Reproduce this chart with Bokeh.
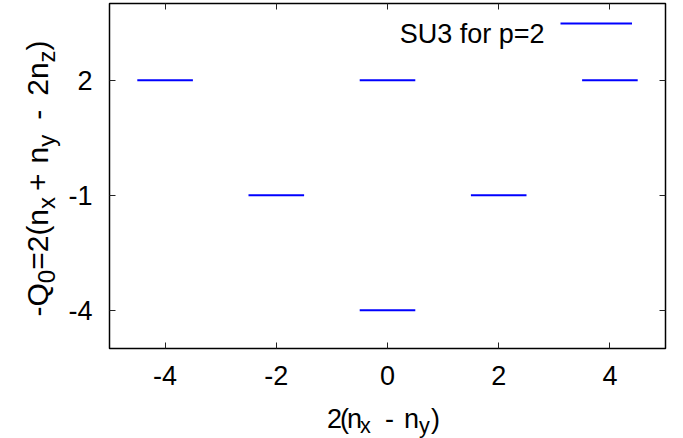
import math
from bokeh.plotting import figure
from bokeh.models import Range1d, LinearAxis, FixedTicker, Label, Legend, LegendItem
from bokeh.embed import file_html
from bokeh.resources import INLINE

# ---- data ----
level_x = [-4, 0, 4, -2, 2, 0]
level_y = [2, 2, 2, -1, -1, -4]
level_len = 1.0
x_ticks = [-4, -2, 0, 2, 4]
y_ticks = [-4, -1, 2]
x_lim = (-5, 5)
y_lim = (-5, 4)
series_name = "SU3 for p=2"
# axis titles as (text, is_subscript) tokens
x_title = [("2", False), ("(", False), ("n", False), ("x", True), ("-", False),
           ("n", False), ("y", True), (")", False)]
y_title = [("-Q", False), ("0", True), ("=2(n", False), ("x", True), ("+", False),
           ("n", False), ("y", True), ("-", False), ("2n", False), ("z", True), (")", False)]

# ---- layout (pixels) ----
W_PX, H_PX = 683, 438
BOX_L, BOX_R, BOX_T, BOX_B = 109, 665, 3, 348
FONT = "Liberation Sans"
FS = 27
YFS = 30
BLUE = "#0000ff"
X_TITLE_POS = [334, 344, 354, 365, 389, 411, 424, 435]   # token centres
X_TITLE_BASE, X_SUB_SHIFT = 418, 7
Y_TITLE_START = 316                                       # page y where the rotated title begins
Y_TITLE_GAPS = [0, 0, 0, 0, 6, 10, 0, 15, 14, 0, 0]       # extra gap before each token
Y_TITLE_BASE, Y_SUB_SHIFT = 37, 9

ADV = {'-': 333, 'Q': 778, '0': 556, '=': 584, '2': 556, '(': 333, ')': 333, 'n': 556,
       'x': 500, 'y': 500, 'z': 500, '+': 584}


def adv(s, size):
    return sum(ADV[c] for c in s) * size / 1000.0


sxu = (BOX_R - BOX_L) / (x_lim[1] - x_lim[0])
syu = (BOX_B - BOX_T) / (y_lim[1] - y_lim[0])
xr = Range1d(x_lim[0] - BOX_L / sxu, x_lim[1] + (W_PX - BOX_R) / sxu)
yr = Range1d(y_lim[0] - (H_PX - BOX_B) / syu, y_lim[1] + BOX_T / syu)

p = figure(width=W_PX, height=H_PX, output_backend="svg", toolbar_location=None,
           x_range=xr, y_range=yr, min_border=0,
           x_axis_type=None, y_axis_type=None)
p.grid.visible = False
p.outline_line_color = None
p.background_fill_color = "white"
p.border_fill_color = "white"

# plot box
p.quad(left=[x_lim[0]], right=[x_lim[1]], bottom=[y_lim[0]], top=[y_lim[1]],
       fill_color=None, line_color="black", line_width=1.5)

x0 = [x - level_len / 2 for x in level_x]
x1 = [x + level_len / 2 for x in level_x]
r = p.segment(x0=x0, y0=level_y, x1=x1, y1=level_y, line_color=BLUE, line_width=2)


def make_axis(ticks, loc, show, standoff=0):
    ax = LinearAxis(fixed_location=loc)
    ax.ticker = FixedTicker(ticks=ticks)
    ax.axis_line_color = None
    ax.major_tick_in = 6
    ax.major_tick_out = 0
    ax.minor_tick_line_color = None
    ax.major_tick_line_color = "#222222"
    ax.major_tick_line_width = 1
    ax.major_label_overrides = {t: str(t) for t in ticks}
    ax.major_label_standoff = standoff
    if show:
        ax.major_label_text_font = FONT
        ax.major_label_text_font_size = f"{FS}px"
        ax.major_label_text_color = "black"
    else:
        ax.major_label_text_color = None
    return ax


p.add_layout(make_axis(x_ticks, y_lim[0], True, 17), "below")
p.add_layout(make_axis(y_ticks, x_lim[0], True, 17), "left")
p.add_layout(make_axis(x_ticks, y_lim[1], False), "above")
p.add_layout(make_axis(y_ticks, x_lim[1], False), "right")

# ---- composed axis titles with subscripts ----
for (t, s), cx in zip(x_title, X_TITLE_POS):
    sz = FS * 0.8 if s else FS
    yb = X_TITLE_BASE + (X_SUB_SHIFT if s else 0)
    p.add_layout(Label(x=cx, y=H_PX - yb, x_units="screen", y_units="screen",
                       text=t, text_font=FONT, text_font_size=f"{sz:.1f}px",
                       text_align="center", text_baseline="alphabetic", text_color="black"))

pos = Y_TITLE_START
for (t, s), gap in zip(y_title, Y_TITLE_GAPS):
    sz = YFS * 0.8 if s else YFS
    pos -= gap
    xb = Y_TITLE_BASE + (Y_SUB_SHIFT if s else 0)
    p.add_layout(Label(x=xb, y=H_PX - pos, x_units="screen", y_units="screen",
                       text=t, text_font=FONT, text_font_size=f"{sz:.1f}px",
                       angle=math.pi / 2, text_align="left", text_baseline="alphabetic",
                       text_color="black"))
    pos -= adv(t, sz)

# ---- key: text left of the line sample (gnuplot style) ----
KEY_TEXT_R, KEY_BASE = 544, 33
KEY_L, KEY_Y, KEY_W, KEY_GH = 560, 23, 72, 10
p.add_layout(Label(x=KEY_TEXT_R, y=H_PX - KEY_BASE, x_units="screen", y_units="screen",
                   text=series_name, text_font=FONT, text_font_size=f"{FS}px",
                   text_align="right", text_baseline="alphabetic", text_color="black"))
leg = Legend(items=[LegendItem(label=" ", renderers=[r])],
             location=(KEY_L, H_PX - (KEY_Y + KEY_GH / 2)),
             glyph_width=KEY_W, glyph_height=KEY_GH, padding=0, margin=0, spacing=0,
             label_standoff=0, label_width=0, label_height=KEY_GH,
             label_text_font_size="1px", border_line_color=None, background_fill_alpha=0)
p.add_layout(leg, "center")

open("out.html", "w").write(file_html(p, INLINE))
